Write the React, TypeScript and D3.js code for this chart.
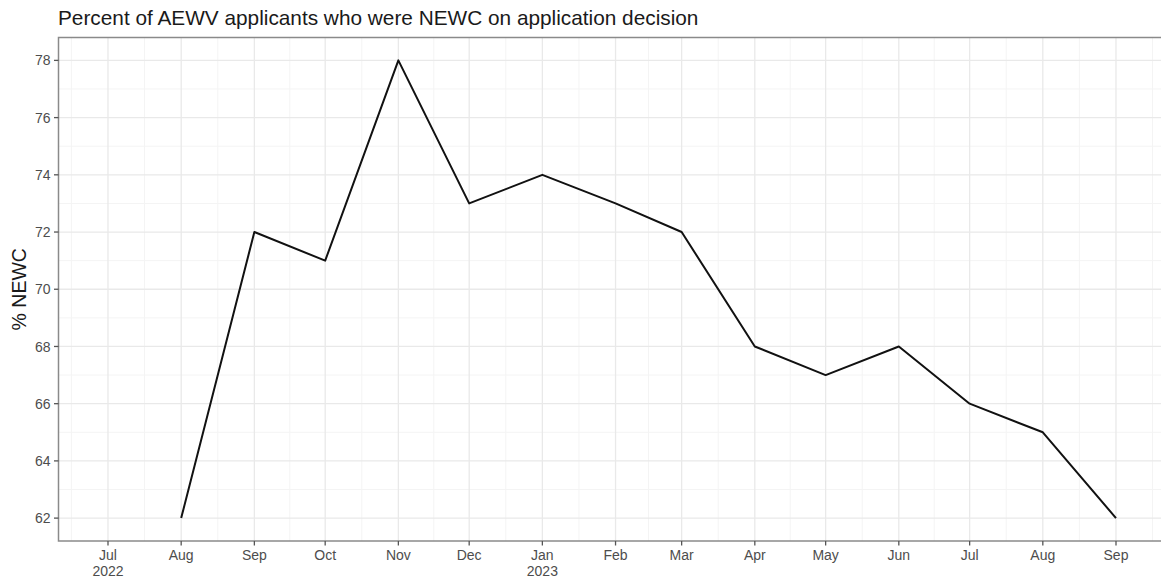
import React, { useEffect } from "react";
import * as d3 from "d3";

const months: string[] = [
  "2022-08-01", "2022-09-01", "2022-10-01", "2022-11-01", "2022-12-01",
  "2023-01-01", "2023-02-01", "2023-03-01", "2023-04-01", "2023-05-01",
  "2023-06-01", "2023-07-01", "2023-08-01", "2023-09-01",
];
const pctNewc: number[] = [62, 72, 71, 78, 73, 74, 73, 72, 68, 67, 68, 66, 65, 62];

const xTickDates: string[] = [
  "2022-07-01", "2022-08-01", "2022-09-01", "2022-10-01", "2022-11-01", "2022-12-01",
  "2023-01-01", "2023-02-01", "2023-03-01", "2023-04-01", "2023-05-01", "2023-06-01",
  "2023-07-01", "2023-08-01", "2023-09-01",
];
const xTickLabels: string[] = [
  "Jul\n2022", "Aug", "Sep", "Oct", "Nov", "Dec", "Jan\n2023", "Feb", "Mar", "Apr",
  "May", "Jun", "Jul", "Aug", "Sep",
];
const yTicks: number[] = [62, 64, 66, 68, 70, 72, 74, 76, 78];

const title = "Percent of AEWV applicants who were NEWC on application decision";
const yLabel = "% NEWC";

const W = 1161;
const H = 579;
const panel = { left: 58.5, top: 37.5, bottom: 541 };

const parse = (s: string) => new Date(s + "T00:00:00Z");

export default function App() {
  useEffect(() => {
    document.body.style.margin = "0";
  }, []);

  const tickDates = xTickDates.map(parse);
  const first = tickDates[0].getTime();
  const last = tickDates[tickDates.length - 1].getTime();
  const pad = (last - first) * 0.05;
  const pxPerMs = (1116 - 108) / (last - first);
  const x = d3
    .scaleUtc()
    .domain([new Date(first - pad), new Date(last + pad)])
    .range([108 - pad * pxPerMs, 1116 + pad * pxPerMs]);

  const yMin = 62, yMax = 78;
  const yPad = (yMax - yMin) * 0.05;
  const y = d3.scaleLinear().domain([yMin - yPad, yMax + yPad]).range([panel.bottom, panel.top]);

  const panelLeft = panel.left;
  const panelRight = x.range()[1];

  const tms = tickDates.map((d) => d.getTime());
  const xMinor: number[] = [];
  xMinor.push(tms[0] - (tms[1] - tms[0]) / 2);
  for (let i = 0; i < tms.length - 1; i++) xMinor.push((tms[i] + tms[i + 1]) / 2);
  xMinor.push(tms[tms.length - 1] + (tms[tms.length - 1] - tms[tms.length - 2]) / 2);
  const yMinor = d3.range(61, 80, 2).filter((v) => v > y.domain()[0] && v < y.domain()[1]);

  const data = months.map((m, i) => ({ d: parse(m), v: pctNewc[i] }));
  const line = d3
    .line<{ d: Date; v: number }>()
    .x((p) => x(p.d))
    .y((p) => y(p.v));

  const font = "Liberation Sans, Arial, sans-serif";

  return (
    <svg width={W} height={H} style={{ display: "block", background: "#fff" }} fontFamily={font}>
      <rect x={0} y={0} width={W} height={H} fill="#fff" />
      <text x={58} y={25} fontSize={20.8} fill="#1a1a1a">{title}</text>
      <g>
        {xMinor.map((t, i) => (
          <line key={"xm" + i} x1={x(new Date(t))} x2={x(new Date(t))} y1={panel.top} y2={panel.bottom} stroke="#f4f4f4" strokeWidth={1} />
        ))}
        {yMinor.map((v) => (
          <line key={"ym" + v} x1={panelLeft} x2={panelRight} y1={y(v)} y2={y(v)} stroke="#f4f4f4" strokeWidth={1} />
        ))}
        {tickDates.map((d, i) => (
          <line key={"xg" + i} x1={x(d)} x2={x(d)} y1={panel.top} y2={panel.bottom} stroke="#e9e9e9" strokeWidth={1.3} />
        ))}
        {yTicks.map((v) => (
          <line key={"yg" + v} x1={panelLeft} x2={panelRight} y1={y(v)} y2={y(v)} stroke="#e9e9e9" strokeWidth={1.3} />
        ))}
      </g>
      <path d={line(data) || ""} fill="none" stroke="#111" strokeWidth={2} strokeLinejoin="round" />
      <rect x={panelLeft} y={panel.top} width={panelRight - panelLeft} height={panel.bottom - panel.top} fill="none" stroke="#8a8a8a" strokeWidth={1.5} />
      {yTicks.map((v) => (
        <g key={"yt" + v}>
          <line x1={panelLeft - 4.5} x2={panelLeft} y1={y(v)} y2={y(v)} stroke="#555" strokeWidth={1.3} />
          <text x={panelLeft - 8} y={y(v)} dy="0.36em" textAnchor="end" fontSize={14} fill="#4d4d4d">{v}</text>
        </g>
      ))}
      {tickDates.map((d, i) => (
        <g key={"xt" + i}>
          <line x1={x(d)} x2={x(d)} y1={panel.bottom} y2={panel.bottom + 4.5} stroke="#555" strokeWidth={1.3} />
          {xTickLabels[i].split("\n").map((s, j) => (
            <text key={j} x={x(d)} y={560 + j * 15.5} textAnchor="middle" fontSize={14} fill="#4d4d4d">{s}</text>
          ))}
        </g>
      ))}
      <text transform={`translate(26, ${(panel.top + panel.bottom) / 2}) rotate(-90)`} textAnchor="middle" fontSize={19.5} fill="#1a1a1a">{yLabel}</text>
    </svg>
  );
}
